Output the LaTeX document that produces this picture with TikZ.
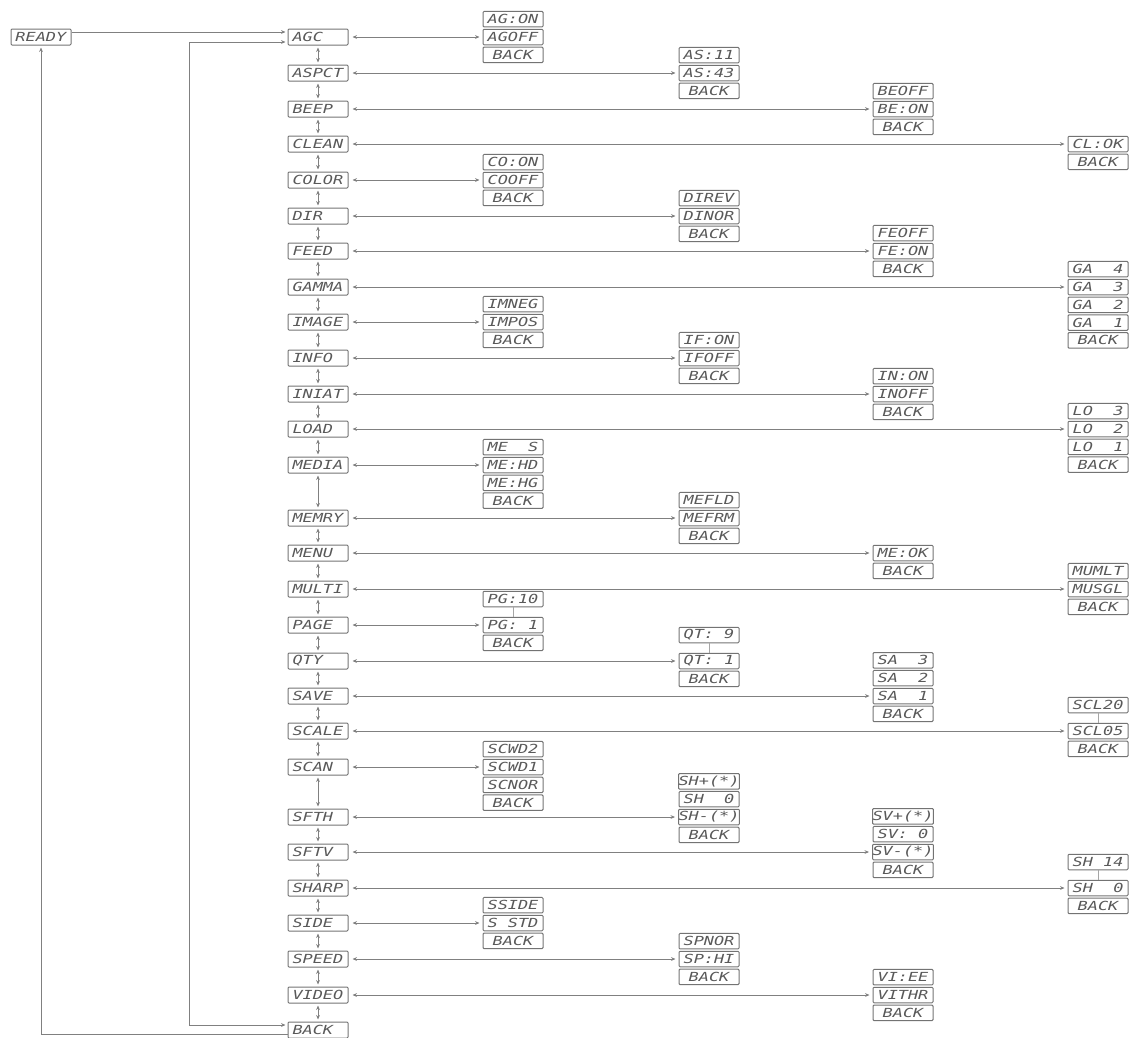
\documentclass[tikz,border=0pt]{standalone}
\usepackage{fontspec}
\newfontfamily\lcdfont{DejaVu Sans Mono}[FakeStretch=1.35]
\usetikzlibrary{arrows.meta,calc}

\begin{document}
\begin{tikzpicture}[
    x=1pt, y=-1pt,
    >={Stealth[length=4.5pt,width=3.8pt]},
    every node/.style={font=\lcdfont\itshape\fontsize{12.5}{12.5}\selectfont, text=black!65},
    mainbox/.style={draw=black!55, line width=1pt, rounded corners=1pt, text width=51pt, align=left, inner xsep=4.5pt, inner ysep=0pt, minimum height=16pt},
    subbox/.style={draw=black!55, line width=1pt, rounded corners=1pt, minimum width=60pt, minimum height=15.5pt, inner sep=0pt},
    hlink/.style={<->, draw=black!50, line width=0.9pt, shorten <=4pt, shorten >=3pt},
    vlink/.style={<->, draw=black!50, line width=0.9pt, shorten <=2pt, shorten >=2pt},
    route/.style={draw=black!50, line width=0.9pt, shorten >=2pt}
]
\useasboundingbox (0,0) rectangle (1143,1037);

\node[mainbox] (ready) at (41,37) {READY};

% main menu column
\foreach \n/\t/\y in {agc/AGC/37, aspct/ASPCT/73, beep/BEEP/109, clean/CLEAN/144,
    color/COLOR/180, dir/DIR/216, feed/FEED/251, gamma/GAMMA/287, image/IMAGE/322,
    info/INFO/358, iniat/INIAT/394, load/LOAD/429, media/MEDIA/465, memry/MEMRY/518,
    menu/MENU/553, multi/MULTI/589, page/PAGE/625, qty/QTY/661, save/SAVE/696,
    scale/SCALE/731, scan/SCAN/767, sfth/SFTH/817, sftv/SFTV/852, sharp/SHARP/888,
    side/SIDE/923, speed/SPEED/959, video/VIDEO/995, back/BACK/1030}
    \node[mainbox] (\n) at (318,\y) {\t};

\foreach \n [remember=\n as \last (initially agc)] in {aspct,beep,clean,color,dir,feed,
    gamma,image,info,iniat,load,media,memry,menu,multi,page,qty,save,scale,scan,sfth,
    sftv,sharp,side,speed,video,back}
    \draw[vlink] (\last) -- (\n);

% settings: parent / column offset / entry item / items
\foreach \p/\dx/\k/\items in {
    agc/195/2/{AG:ON,AGOFF,BACK},
    aspct/391/2/{AS:11,AS:43,BACK},
    beep/585/2/{BEOFF,BE:ON,BACK},
    clean/780/1/{CL:OK,BACK},
    color/195/2/{CO:ON,COOFF,BACK},
    dir/391/2/{DIREV,DINOR,BACK},
    feed/585/2/{FEOFF,FE:ON,BACK},
    gamma/780/2/{GA~~4,GA~~3,GA~~2,GA~~1,BACK},
    image/195/2/{IMNEG,IMPOS,BACK},
    info/391/2/{IF:ON,IFOFF,BACK},
    iniat/585/2/{IN:ON,INOFF,BACK},
    load/780/2/{LO~~3,LO~~2,LO~~1,BACK},
    media/195/2/{ME~~S,ME:HD,ME:HG,BACK},
    memry/391/2/{MEFLD,MEFRM,BACK},
    menu/585/1/{ME:OK,BACK},
    multi/780/2/{MUMLT,MUSGL,BACK},
    page/195/1/{PG:~1,BACK},
    qty/391/1/{QT:~1,BACK},
    save/585/3/{SA~~3,SA~~2,SA~~1,BACK},
    scale/780/1/{SCL05,BACK},
    scan/195/2/{SCWD2,SCWD1,SCNOR,BACK},
    sfth/391/3/{SH+(*),SH~~0,SH-(*),BACK},
    sftv/585/3/{SV+(*),SV:~0,SV-(*),BACK},
    sharp/780/1/{SH~~0,BACK},
    side/195/2/{SSIDE,S~STD,BACK},
    speed/391/2/{SPNOR,SP:HI,BACK},
    video/585/2/{VI:EE,VITHR,BACK}} {
  \foreach \t [count=\i] in \items
    \node[subbox] (\p-\i) at ($(\p)+(\dx,{(\i-\k)*17.8})$) {\t};
  \draw[hlink] (\p) -- (\p-\k);
}

% upper limits of the counters
\foreach \p/\t in {page/PG:10, qty/QT:~9, scale/SCL20, sharp/SH~14} {
  \node[subbox] (\p-0) at ($(\p-1)+(0,-26)$) {\t};
  \draw[black!35, line width=0.4pt] (\p-0) -- (\p-1);
}

% wrap around and exit
\coordinate (wrap) at (189,0);
\coordinate (agcin) at ([yshift=-5pt]agc.west);
\coordinate (backin) at ([yshift=5pt]back.west);
\coordinate (backout) at ([yshift=-4pt]back.west);
\draw[route, ->] ([yshift=5pt]ready.east) -- ([yshift=5pt]agc.west);
\draw[route, <->, shorten <=2pt] (agcin) -- (agcin -| wrap) -- (backin -| wrap) -- (backin);
\draw[route, ->] (backout) -| (ready.south);
\end{tikzpicture}
\end{document}
